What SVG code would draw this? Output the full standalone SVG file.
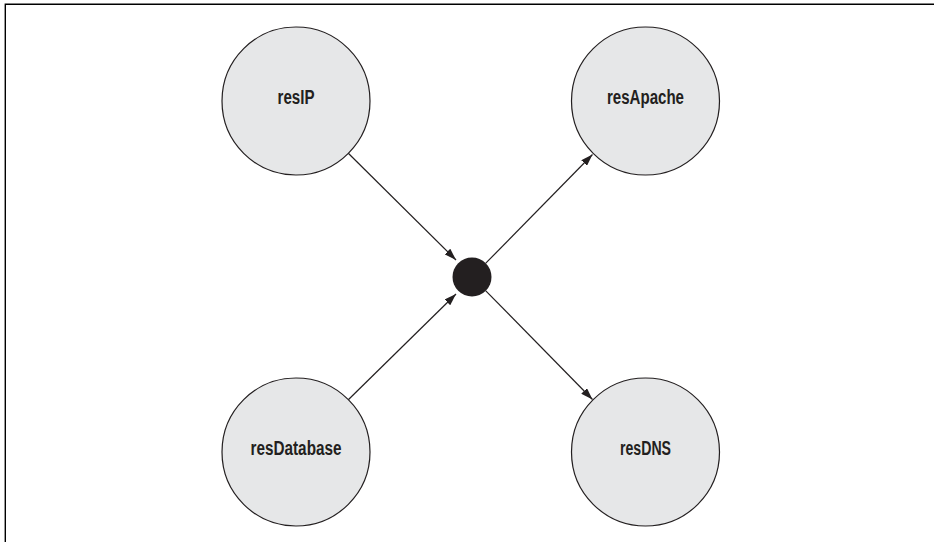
<svg xmlns="http://www.w3.org/2000/svg" width="934" height="542" viewBox="0 0 934 542">
<style>
.node circle{fill:#e6e7e8;stroke:#231f20;stroke-width:1.2}
.node text{font-family:"Liberation Sans",Arial,sans-serif;font-weight:bold;font-size:20px;fill:#231f20;text-anchor:middle}
.conn line{stroke:#231f20;stroke-width:1.2;fill:none}
.frame{stroke:#000;stroke-width:1.4;fill:none}
</style>
<defs>
<marker id="arr" viewBox="0 0 12 8" refX="12" refY="4" markerWidth="12" markerHeight="8" markerUnits="userSpaceOnUse" orient="auto">
<path d="M0,0 L12,4 L0,8 Z" fill="#231f20"/>
</marker>
</defs>
<path class="frame" d="M5.3,542 L5.3,4.3 L934,4.3"/>
<g id="resIP" class="node"><circle cx="296" cy="101" r="74"/><text x="296" y="104" textLength="37" lengthAdjust="spacingAndGlyphs">resIP</text></g>
<g id="resApache" class="node"><circle cx="645.5" cy="101" r="74"/><text x="645.5" y="104" textLength="77" lengthAdjust="spacingAndGlyphs">resApache</text></g>
<g id="resDatabase" class="node"><circle cx="296" cy="452" r="74"/><text x="296" y="455" textLength="91" lengthAdjust="spacingAndGlyphs">resDatabase</text></g>
<g id="resDNS" class="node"><circle cx="645.5" cy="452" r="74"/><text x="645.5" y="455" textLength="51" lengthAdjust="spacingAndGlyphs">resDNS</text></g>
<g id="junction"><circle cx="472" cy="277" r="19.5" fill="#231f20"/></g>
<g id="connectors" class="conn">
<line x1="348.3" y1="153.3" x2="456" y2="260" marker-end="url(#arr)"/>
<line x1="348.3" y1="399.7" x2="456" y2="294" marker-end="url(#arr)"/>
<line x1="485.8" y1="263.2" x2="592.5" y2="154.5" marker-end="url(#arr)"/>
<line x1="485.8" y1="290.8" x2="592.5" y2="399.5" marker-end="url(#arr)"/>
</g>
</svg>
